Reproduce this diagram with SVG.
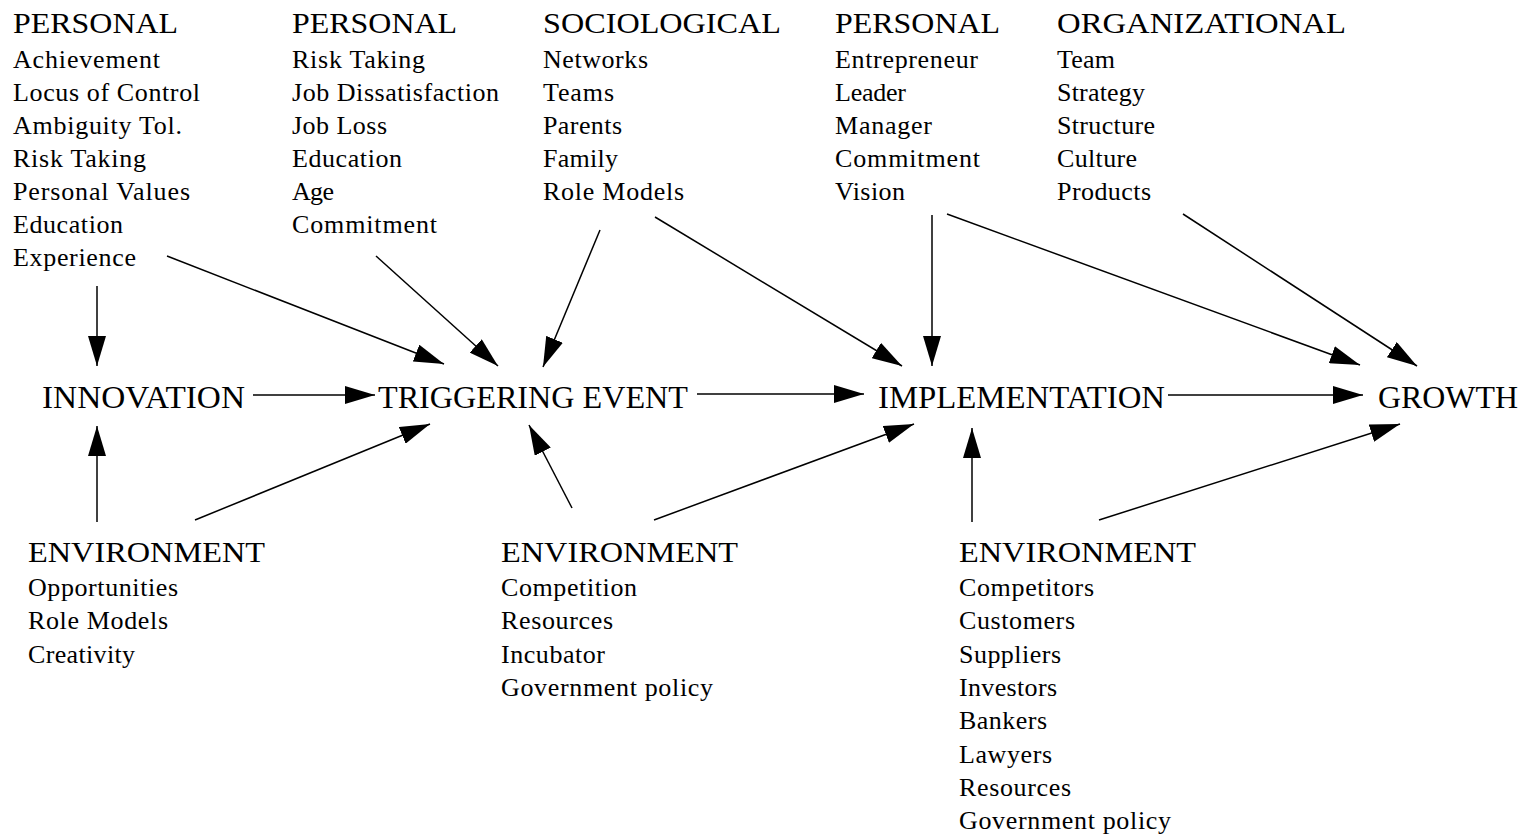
<svg xmlns="http://www.w3.org/2000/svg" width="1526" height="834" viewBox="0 0 1526 834">
<style>
text{font-family:"Liberation Serif","Times New Roman",serif;fill:#000}
.h{font-size:29px}
.i{font-size:26px}
.m{font-size:31px}
.c line{stroke:#000;stroke-width:1.5;fill:none;marker-end:url(#ah)}
</style>
<defs>
<marker id="ah" viewBox="0 0 30 18" markerWidth="30" markerHeight="18" refX="30" refY="9" orient="auto" markerUnits="userSpaceOnUse">
<path d="M0,0 L30,9 L0,18 Z" fill="#000"/>
</marker>
</defs>
<rect width="1526" height="834" fill="#fff"/>
<g id="personal1">
<text class="h" x="13" y="33" textLength="165" lengthAdjust="spacingAndGlyphs">PERSONAL</text>
<text class="i" x="13" y="68" textLength="147">Achievement</text>
<text class="i" x="13" y="101" textLength="187">Locus of Control</text>
<text class="i" x="13" y="134" textLength="169">Ambiguity Tol.</text>
<text class="i" x="13" y="167" textLength="133">Risk Taking</text>
<text class="i" x="13" y="200" textLength="177">Personal Values</text>
<text class="i" x="13" y="233" textLength="110">Education</text>
<text class="i" x="13" y="266" textLength="123">Experience</text>
</g>
<g id="personal2">
<text class="h" x="292" y="33" textLength="165" lengthAdjust="spacingAndGlyphs">PERSONAL</text>
<text class="i" x="292" y="68" textLength="133">Risk Taking</text>
<text class="i" x="292" y="101" textLength="207">Job Dissatisfaction</text>
<text class="i" x="292" y="134" textLength="95">Job Loss</text>
<text class="i" x="292" y="167" textLength="110">Education</text>
<text class="i" x="292" y="200" textLength="42">Age</text>
<text class="i" x="292" y="233" textLength="145">Commitment</text>
</g>
<g id="sociological">
<text class="h" x="543" y="33" textLength="238" lengthAdjust="spacingAndGlyphs">SOCIOLOGICAL</text>
<text class="i" x="543" y="68" textLength="105">Networks</text>
<text class="i" x="543" y="101" textLength="71">Teams</text>
<text class="i" x="543" y="134" textLength="79">Parents</text>
<text class="i" x="543" y="167" textLength="75">Family</text>
<text class="i" x="543" y="200" textLength="141">Role Models</text>
</g>
<g id="personal3">
<text class="h" x="835" y="33" textLength="165" lengthAdjust="spacingAndGlyphs">PERSONAL</text>
<text class="i" x="835" y="68" textLength="143">Entrepreneur</text>
<text class="i" x="835" y="101" textLength="71">Leader</text>
<text class="i" x="835" y="134" textLength="97">Manager</text>
<text class="i" x="835" y="167" textLength="145">Commitment</text>
<text class="i" x="835" y="200" textLength="70">Vision</text>
</g>
<g id="organizational">
<text class="h" x="1057" y="33" textLength="289" lengthAdjust="spacingAndGlyphs">ORGANIZATIONAL</text>
<text class="i" x="1057" y="68" textLength="58">Team</text>
<text class="i" x="1057" y="101" textLength="88">Strategy</text>
<text class="i" x="1057" y="134" textLength="98">Structure</text>
<text class="i" x="1057" y="167" textLength="80">Culture</text>
<text class="i" x="1057" y="200" textLength="94">Products</text>
</g>
<g id="innovation"><text class="m" x="42" y="408" textLength="203" lengthAdjust="spacingAndGlyphs">INNOVATION</text></g>
<g id="triggering"><text class="m" x="378" y="408" textLength="310" lengthAdjust="spacingAndGlyphs">TRIGGERING EVENT</text></g>
<g id="implementation"><text class="m" x="878" y="408" textLength="287" lengthAdjust="spacingAndGlyphs">IMPLEMENTATION</text></g>
<g id="growth"><text class="m" x="1378" y="408" textLength="140" lengthAdjust="spacingAndGlyphs">GROWTH</text></g>
<g id="environment1">
<text class="h" x="28" y="562" textLength="237" lengthAdjust="spacingAndGlyphs">ENVIRONMENT</text>
<text class="i" x="28" y="596" textLength="150">Opportunities</text>
<text class="i" x="28" y="629" textLength="140">Role Models</text>
<text class="i" x="28" y="663" textLength="107">Creativity</text>
</g>
<g id="environment2">
<text class="h" x="501" y="562" textLength="237" lengthAdjust="spacingAndGlyphs">ENVIRONMENT</text>
<text class="i" x="501" y="596" textLength="136">Competition</text>
<text class="i" x="501" y="629" textLength="112">Resources</text>
<text class="i" x="501" y="663" textLength="104">Incubator</text>
<text class="i" x="501" y="696" textLength="212">Government policy</text>
</g>
<g id="environment3">
<text class="h" x="959" y="562" textLength="237" lengthAdjust="spacingAndGlyphs">ENVIRONMENT</text>
<text class="i" x="959" y="596" textLength="135">Competitors</text>
<text class="i" x="959" y="629" textLength="116">Customers</text>
<text class="i" x="959" y="663" textLength="102">Suppliers</text>
<text class="i" x="959" y="696" textLength="98">Investors</text>
<text class="i" x="959" y="729" textLength="88">Bankers</text>
<text class="i" x="959" y="763" textLength="93">Lawyers</text>
<text class="i" x="959" y="796" textLength="112">Resources</text>
<text class="i" x="959" y="829" textLength="212">Government policy</text>
</g>
<g id="connectors" class="c">
<line x1="97" y1="286" x2="97" y2="366"/>
<line x1="97" y1="522" x2="97" y2="426"/>
<line x1="167" y1="256" x2="444" y2="364"/>
<line x1="376" y1="256" x2="498" y2="366"/>
<line x1="600" y1="230" x2="543" y2="367"/>
<line x1="655" y1="217" x2="902" y2="366"/>
<line x1="932" y1="215" x2="932" y2="366"/>
<line x1="947" y1="214" x2="1360" y2="365"/>
<line x1="1183" y1="214" x2="1417" y2="366"/>
<line x1="253" y1="395" x2="375" y2="395"/>
<line x1="697" y1="394" x2="864" y2="394"/>
<line x1="1168" y1="395" x2="1363" y2="395"/>
<line x1="195" y1="520" x2="430" y2="424"/>
<line x1="572" y1="508" x2="529" y2="425"/>
<line x1="654" y1="520" x2="914" y2="424"/>
<line x1="972" y1="522" x2="972" y2="428"/>
<line x1="1099" y1="520" x2="1400" y2="424"/>
</g>
</svg>
